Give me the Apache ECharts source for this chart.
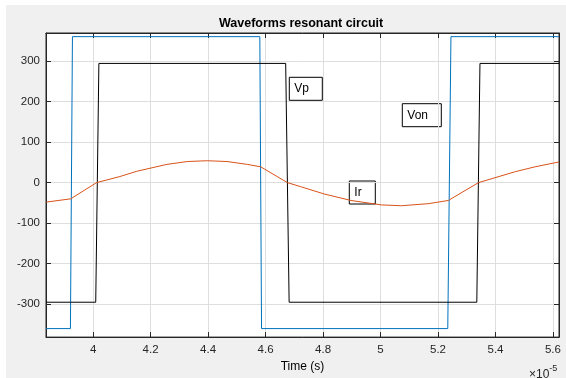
<!DOCTYPE html>
<html>
<head>
<meta charset="utf-8">
<script src="https://cdn.jsdelivr.net/npm/echarts@6/dist/echarts.min.js"></script>
<style>
  html, body { margin: 0; padding: 0; background: #ffffff; }
  #resonant { position: absolute; left: 6px; top: 5px; width: 560px; height: 373px; }
</style>
</head>
<body>
<div id="resonant"></div>
<script>
// time axis values are in units of 1e-5 s
var xTicks = [4, 4.2, 4.4, 4.6, 4.8, 5, 5.2, 5.4, 5.6];
var yTicks = [-300, -200, -100, 0, 100, 200, 300];

var vonTime = [3.836, 3.921, 3.928, 4.580, 4.586, 5.234, 5.245, 5.621];
var vonValue = [-360, -360, 360, 360, -360, -360, 360, 360];

var vpTime = [3.836, 4.009, 4.020, 4.670, 4.682, 5.335, 5.346, 5.621];
var vpValue = [-295, -295, 294, 294, -295, -295, 294, 294];

var irTime = [3.837, 3.922, 4.012, 4.093, 4.152, 4.257, 4.327, 4.397, 4.466, 4.536, 4.583,
    4.676, 4.722, 4.804, 4.897, 5.003, 5.073, 5.166, 5.236, 5.341, 5.469, 5.538, 5.621];
var irValue = [-48, -40, 0, 15, 28, 45, 52, 54, 52, 45, 39,
    0, -10, -28, -44, -55, -57, -52, -44, 0, 27, 39, 51];

function pairs(t, v) {
    var out = [];
    for (var i = 0; i < t.length; i++) {
        out.push([t[i], v[i]]);
    }
    return out;
}

var dom = document.getElementById('resonant');
var myChart = echarts.init(dom, null, {
    renderer: 'canvas',
    useDirtyRect: false
});

var font = 'Liberation Sans, Arial, sans-serif';
var ink = '#262626';

function noteBox(x, y, w, label) {
    return {
        type: 'group',
        children: [
            {
                type: 'rect',
                shape: { x: x, y: y, width: w, height: 23 },
                style: { fill: '#ffffff', stroke: '#000000', lineWidth: 1 }
            },
            {
                type: 'text',
                x: x + 5,
                y: y + 11.5,
                style: {
                    text: label,
                    fill: '#000000',
                    font: '12px ' + font,
                    verticalAlign: 'middle'
                }
            }
        ]
    };
}

var option;

option = {
    animation: false,
    backgroundColor: '#f0f0f0',
    title: {
        text: 'Waveforms resonant circuit',
        left: 213,
        top: 12,
        padding: 0,
        textStyle: {
            fontFamily: font,
            fontSize: 12.5,
            fontWeight: 'bold',
            color: '#000000'
        }
    },
    grid: {
        left: 40,
        top: 28,
        right: 7,
        bottom: 38,
        show: true,
        backgroundColor: '#ffffff',
        borderColor: ink,
        borderWidth: 1
    },
    xAxis: [
        {
            type: 'value',
            min: 3.836,
            max: 5.621,
            name: 'Time (s)',
            nameLocation: 'middle',
            nameGap: 21,
            nameTextStyle: { fontFamily: font, fontSize: 12, color: '#000000' },
            axisLine: { onZero: false, lineStyle: { color: ink } },
            axisTick: { inside: true, length: 5, customValues: xTicks, lineStyle: { color: ink } },
            axisLabel: {
                customValues: xTicks,
                margin: 7,
                fontFamily: font,
                fontSize: 11.5,
                color: ink
            },
            splitLine: { show: true, lineStyle: { color: '#dedede', width: 1 } }
        },
        {
            type: 'value',
            position: 'top',
            min: 3.836,
            max: 5.621,
            axisLine: { onZero: false, lineStyle: { color: ink } },
            axisTick: { inside: true, length: 5, customValues: xTicks, lineStyle: { color: ink } },
            axisLabel: { show: false },
            splitLine: { show: false }
        }
    ],
    yAxis: [
        {
            type: 'value',
            min: -381,
            max: 369,
            axisLine: { show: true, onZero: false, lineStyle: { color: ink } },
            axisTick: { show: true, inside: true, length: 5, customValues: yTicks, lineStyle: { color: ink } },
            axisLabel: {
                customValues: yTicks,
                margin: 6,
                fontFamily: font,
                fontSize: 11.5,
                color: ink
            },
            splitLine: { show: true, lineStyle: { color: '#dedede', width: 1 } }
        },
        {
            type: 'value',
            position: 'right',
            min: -381,
            max: 369,
            axisLine: { show: true, onZero: false, lineStyle: { color: ink } },
            axisTick: { show: true, inside: true, length: 5, customValues: yTicks, lineStyle: { color: ink } },
            axisLabel: { show: false },
            splitLine: { show: false }
        }
    ],
    graphic: [
        {
            type: 'text',
            left: 523,
            top: 359,
            style: {
                text: '{a|×10}{b|-5}',
                rich: {
                    a: { fontFamily: font, fontSize: 12, fill: ink, verticalAlign: 'bottom' },
                    b: { fontFamily: font, fontSize: 9, fill: ink, verticalAlign: 'top', padding: [0, 0, 8, 0] }
                }
            }
        },
        noteBox(283.3, 72.3, 33, 'Vp'),
        noteBox(396.3, 98.7, 39, 'Von'),
        noteBox(343.3, 176, 26, 'Ir')
    ],
    series: [
        {
            name: 'Von',
            type: 'line',
            showSymbol: false,
            lineStyle: { color: '#0072BD', width: 1 },
            data: pairs(vonTime, vonValue)
        },
        {
            name: 'Vp',
            type: 'line',
            showSymbol: false,
            lineStyle: { color: '#000000', width: 1 },
            data: pairs(vpTime, vpValue)
        },
        {
            name: 'Ir',
            type: 'line',
            showSymbol: false,
            lineStyle: { color: '#D95319', width: 1 },
            data: pairs(irTime, irValue)
        }
    ]
};

if (option && typeof option === 'object') {
    myChart.setOption(option);
}

window.addEventListener('resize', myChart.resize);
</script>
</body>
</html>
